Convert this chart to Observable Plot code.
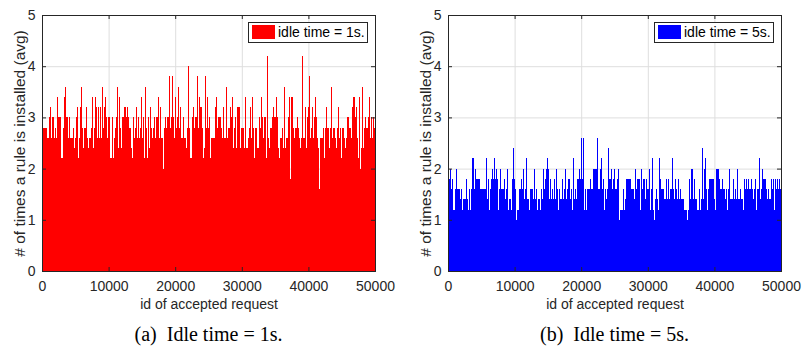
<!DOCTYPE html>
<html><head><meta charset="utf-8">
<script src="https://cdn.jsdelivr.net/npm/d3@7"></script>
<script src="https://cdn.jsdelivr.net/npm/@observablehq/plot@0.6"></script>
<style>
body{margin:0;background:#fff;}
#wrap{position:relative;width:812px;height:350px;overflow:hidden;font-family:"Liberation Sans",Arial,sans-serif;}
.panel{position:absolute;top:0;width:406px;height:350px;}
.panel svg{position:absolute;left:0;top:0;overflow:visible;}
.legend{position:absolute;left:248px;top:22px;width:120px;height:21px;border:1px solid #262626;background:#fff;box-sizing:border-box;font-size:14px;color:#000;}
.legend .sw{position:absolute;left:3px;top:2px;width:23px;height:14px;}
.legend .tx{position:absolute;left:29px;top:0;line-height:19px;white-space:nowrap;}
.caption{position:absolute;top:322px;font-family:"Liberation Serif","Times New Roman",serif;font-size:20px;line-height:24px;color:#000;white-space:pre;transform:translateX(-50%);}
g[aria-label="y-axis label"] text{font-size:15.5px;}
</style></head><body>
<div id="wrap"></div>
<script>
const xTicks = [0, 10000, 20000, 30000, 40000, 50000];
const yTicks = [0, 1, 2, 3, 4, 5];
const xLabel = "id of accepted request";
const yLabel = "# of times a rule is installed (avg)";
const seriesLabels = ["idle time = 1s.", "idle time = 5s."];
const captions = ["(a)  Idle time = 1s.", "(b)  Idle time = 5s."];
const colors = ["#ff0000", "#0000ff"];

const redValues = [
2.4,2.8,2.8,2.8,2.8,2.6,2.6,3.0,3.2,2.6,3.0,3.0,2.6,2.8,2.6,3.4,3.0,3.0,3.0,2.2,
2.2,2.8,3.4,3.6,3.0,3.0,2.6,3.0,2.6,2.6,2.6,2.8,2.4,2.6,3.0,3.2,2.2,2.6,3.2,3.6,
2.8,2.4,2.8,2.8,3.2,2.6,2.4,2.6,2.6,2.8,3.4,2.4,2.8,3.4,3.2,
2.6,3.2,2.6,3.2,2.6,3.6,2.8,3.2,3.4,3.0,2.6,3.0,3.0,2.2,2.2,3.0,2.2,2.6,2.8,3.0,
3.6,2.4,3.4,2.8,2.4,3.0,3.0,3.2,3.0,3.2,3.0,2.8,2.8,2.4,2.2,3.0,2.6,2.8,3.2,2.6,
3.0,2.6,2.8,3.4,2.6,3.0,2.2,3.6,2.8,2.2,3.0,2.4,3.2,2.8,2.6,2.8,
3.0,2.6,3.0,3.0,3.4,2.6,3.2,2.6,2.6,2.0,2.8,3.0,2.8,3.0,3.0,3.8,2.8,3.0,3.8,3.0,
2.6,3.4,2.8,3.0,3.6,2.8,3.2,2.6,2.6,3.0,2.6,2.6,2.4,2.8,4.0,2.8,2.2,2.2,3.0,3.2,
2.8,3.0,3.0,3.8,2.8,3.4,3.2,3.2,2.8,2.2,2.4,3.8,2.8,3.4,2.8,3.0,
2.2,2.6,2.6,2.6,2.6,3.2,3.4,2.8,3.0,3.0,3.0,2.8,2.6,3.2,2.6,2.6,3.6,2.6,2.8,2.8,
3.2,3.0,3.4,2.4,2.8,3.0,2.4,3.2,3.2,3.2,2.4,2.8,2.8,2.8,2.4,3.4,2.4,2.4,2.6,2.8,
3.2,2.6,3.4,2.8,2.2,2.8,2.8,2.4,2.4,3.0,2.8,3.4,3.0,2.6,3.0,3.0,
2.2,4.2,2.6,2.4,2.8,2.8,3.0,3.2,3.0,3.0,3.4,3.0,2.4,2.2,2.6,2.6,2.8,2.4,3.6,2.4,
2.6,2.6,3.0,3.4,1.8,3.4,2.8,2.6,2.8,2.8,3.0,2.8,2.6,2.4,2.6,4.2,2.6,2.6,3.2,2.4,
3.0,3.2,3.8,2.6,2.8,3.2,2.6,3.0,3.4,3.0,2.6,2.4,1.6,2.6,2.6,2.6,
2.8,2.2,2.8,3.2,2.8,2.8,2.4,2.8,3.6,2.6,2.8,2.8,2.6,2.4,2.8,3.2,2.6,2.8,2.2,2.8,
2.8,2.6,2.4,2.6,3.0,3.0,2.8,2.8,2.6,3.2,3.4,3.4,3.0,3.2,2.6,2.2,3.4,2.0,2.4,3.6,
2.4,2.8,3.0,2.8,2.8,3.0,3.4,2.6,3.0,2.6,3.0,2.8
];

const blueValues = [
1.6,1.8,2.0,1.6,1.8,1.2,1.2,1.6,2.0,1.6,1.6,1.6,1.4,1.6,1.2,1.4,1.4,1.4,1.8,1.4,
1.2,1.6,1.2,1.6,2.2,2.2,1.6,2.0,1.8,1.8,1.8,1.8,1.6,1.6,1.6,1.6,1.6,1.6,2.2,1.4,
1.8,1.2,1.6,1.8,2.0,1.8,2.2,1.8,2.0,1.8,1.2,1.6,2.0,1.6,1.6,1.6,1.8,1.4,1.6,2.0,
1.2,1.4,1.4,1.2,1.8,2.4,1.8,1.6,1.0,1.2,1.2,1.6,1.6,1.8,1.6,2.0,1.4,1.6,2.2,1.4,
1.4,1.2,1.6,1.6,1.4,2.0,1.4,1.6,1.2,1.4,1.4,1.2,1.6,1.4,2.0,1.6,1.8,2.0,2.2,2.0,
1.4,1.8,1.4,1.6,1.4,1.8,1.4,2.0,1.6,1.2,1.6,1.4,1.4,1.8,1.4,1.6,2.0,1.4,1.6,1.8,
1.8,1.4,1.6,1.2,2.2,1.4,1.6,1.4,1.8,1.8,2.0,1.8,2.6,1.8,2.6,1.2,1.6,1.2,1.6,1.6,
1.6,1.8,1.6,1.6,2.0,2.0,2.0,2.0,2.6,1.6,1.6,2.0,2.2,1.6,1.8,1.2,1.6,1.4,1.6,2.4,
1.8,1.8,2.0,1.6,1.8,2.0,1.6,
1.6,1.8,2.0,1.0,1.2,1.2,1.2,1.6,1.2,1.4,1.8,1.8,1.8,1.8,1.8,1.6,1.6,1.6,1.4,2.0,
1.6,1.8,1.8,1.8,1.2,2.0,1.6,1.8,1.8,1.4,1.8,1.6,1.6,2.0,1.2,1.6,2.2,1.2,1.0,1.4,
1.6,1.4,1.2,2.2,1.8,1.6,1.6,1.6,1.4,1.4,1.8,1.4,1.8,1.4,1.6,1.6,2.2,1.6,1.4,1.8,
1.6,1.4,1.8,1.4,1.6,1.4,1.4,1.4,1.2,1.2,1.2,1.0,1.2,1.8,1.4,2.0,2.0,1.4,1.8,1.4,
1.4,1.2,1.6,1.2,1.4,2.4,1.4,2.0,2.2,1.6,1.2,1.6,1.8,1.8,1.8,1.8,1.8,1.4,1.2,2.0,
2.0,2.0,1.8,1.6,1.6,1.8,1.6,1.6,1.4,1.6,1.2,1.6,2.0,1.4,1.4,1.4,1.8,1.4,1.6,1.4,
2.0,1.4,1.4,1.6,1.4,1.4,1.2,1.8,1.6,1.8,1.6,1.8,1.6,1.6,1.8,1.6,1.4,1.6,1.8,1.2,
1.6,1.6,2.2,1.4,1.6,2.0,1.8,1.8,1.8,1.6,1.4,1.6,1.4,1.4,1.8,1.6,1.8,1.2,1.8,1.6,
1.8,1.6,1.8,1.6
];

const series = [redValues, blueValues];
const plotW = 333, plotH = 256;

function makePlot(values, color) {
  const n = values.length;
  const step = 50000 / n;
  const bars = values.map((v, i) => ({x1: i * step, x2: (i + 1) * step, y: v}));
  const axisColor = "#262626";
  return Plot.plot({
    width: 406, height: 320,
    marginLeft: 42, marginRight: 31, marginTop: 15, marginBottom: 49,
    x: {domain: [0, 50000]},
    y: {domain: [0, 5]},
    style: {fontFamily: "'Liberation Sans', Arial, sans-serif", fontSize: "14px", color: axisColor, background: "transparent", overflow: "visible"},
    marks: [
      Plot.gridX(xTicks, {stroke: "#dedede", strokeOpacity: 1, strokeWidth: 1}),
      Plot.gridY(yTicks, {stroke: "#dedede", strokeOpacity: 1, strokeWidth: 1}),
      Plot.rectY(bars, {x1: "x1", x2: "x2", y: "y", fill: color, shapeRendering: "crispEdges"}),
      Plot.tickX(xTicks, {x: d => d, insetTop: plotH - 4, stroke: axisColor}),
      Plot.tickX(xTicks, {x: d => d, insetBottom: plotH - 4, stroke: axisColor}),
      Plot.tickY(yTicks, {y: d => d, insetRight: plotW - 4, stroke: axisColor}),
      Plot.tickY(yTicks, {y: d => d, insetLeft: plotW - 4, stroke: axisColor}),
      Plot.axisX(xTicks, {tickSize: 0, tickPadding: 10, tickFormat: d => String(d), label: xLabel, labelAnchor: "center", labelOffset: 37, labelArrow: "none"}),
      Plot.axisY(yTicks, {tickSize: 0, tickPadding: 7, tickFormat: d => String(d), label: yLabel, labelAnchor: "center", labelOffset: 29, labelArrow: "none"}),
      Plot.frame({stroke: axisColor})
    ]
  });
}

const wrap = document.getElementById("wrap");
series.forEach((values, k) => {
  const panel = document.createElement("div");
  panel.className = "panel";
  panel.style.left = (k * 406) + "px";
  panel.appendChild(makePlot(values, colors[k]));
  const leg = document.createElement("div");
  leg.className = "legend";
  const sw = document.createElement("div");
  sw.className = "sw";
  sw.style.background = colors[k];
  const tx = document.createElement("div");
  tx.className = "tx";
  tx.textContent = seriesLabels[k];
  leg.appendChild(sw); leg.appendChild(tx);
  panel.appendChild(leg);
  const cap = document.createElement("div");
  cap.className = "caption";
  cap.style.left = (42 + plotW / 2) + "px";
  cap.textContent = captions[k];
  panel.appendChild(cap);
  wrap.appendChild(panel);
});
</script>
</body></html>
